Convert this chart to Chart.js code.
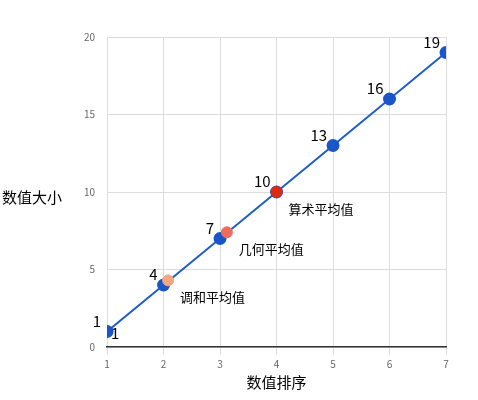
<!DOCTYPE html>
<html><head><meta charset="utf-8">
<script src="https://cdn.jsdelivr.net/npm/chart.js@4"></script>
<style>html,body{margin:0;padding:0;background:#fff}#wrap{width:478px;height:400px}</style>
</head><body><div id="wrap"><canvas id="c"></canvas></div>
<script>
const ranks = [1,2,3,4,5,6,7];
const values = [1,4,7,10,13,16,19];
const meanNames = ['调和平均值','几何平均值','算术平均值'];
const meanX = [2.08,3.12,4];
const meanY = [4.3,7.4,10];
const meanColors = ['#f4a582','#f06a5e','#dd2a0c'];
const xTitle = '数值排序', yTitle = '数值大小';
const F = '"Noto Sans CJK SC", "Noto Sans", sans-serif';

const labelsPlugin = {
  id:'lbl',
  afterDatasetsDraw(ch){
    const c=ch.ctx, xs=ch.scales.x, ys=ch.scales.y;
    c.save();
    c.fillStyle='#000'; c.font='15px '+F; c.textAlign='right'; c.textBaseline='bottom';
    ranks.forEach((r,i)=>{ c.fillText(String(values[i]), xs.getPixelForValue(r)-6, ys.getPixelForValue(values[i])-3); });
    c.textAlign='left'; c.textBaseline='middle';
    c.fillText(String(values[0]), xs.getPixelForValue(ranks[0])+4, ys.getPixelForValue(values[0])+2);
    c.font='13px '+F;
    meanNames.forEach((n,i)=>{ c.fillText(n, xs.getPixelForValue(meanX[i])+12, ys.getPixelForValue(meanY[i])+17); });
    c.font='15px '+F; c.textAlign='center';
    c.fillText(xTitle, (ch.chartArea.left+ch.chartArea.right)/2, 382);
    c.fillText(yTitle, 32, 197);
    c.restore();
  }
};

new Chart(document.getElementById('c'), {
  type:'scatter',
  data:{datasets:[
    {data:meanX.map((x,i)=>({x,y:meanY[i]})), pointBackgroundColor:meanColors, pointBorderColor:meanColors, pointRadius:5.5, showLine:false, order:0},
    {data:ranks.map((x,i)=>({x,y:values[i]})), showLine:true, borderColor:'#1f5ec4', borderWidth:2, pointBackgroundColor:'#1a56c9', pointBorderColor:'#1a56c9', pointRadius:5.5, order:1}
  ]},
  options:{
    responsive:true, maintainAspectRatio:false, animation:false,
    layout:{padding:{left:72,right:32,top:37,bottom:27}},
    plugins:{legend:{display:false},tooltip:{enabled:false}},
    scales:{
      x:{type:'linear',min:1,max:7,ticks:{stepSize:1,color:'#666',font:{size:10,family:F}},grid:{color:'#ddd'},border:{color:'#333',width:1.5}},
      y:{min:0,max:20,ticks:{stepSize:5,color:'#666',font:{size:10,family:F},padding:12},grid:{color:'#ddd',drawTicks:false},border:{display:false}}
    }
  },
  plugins:[labelsPlugin]
});
</script></body></html>
